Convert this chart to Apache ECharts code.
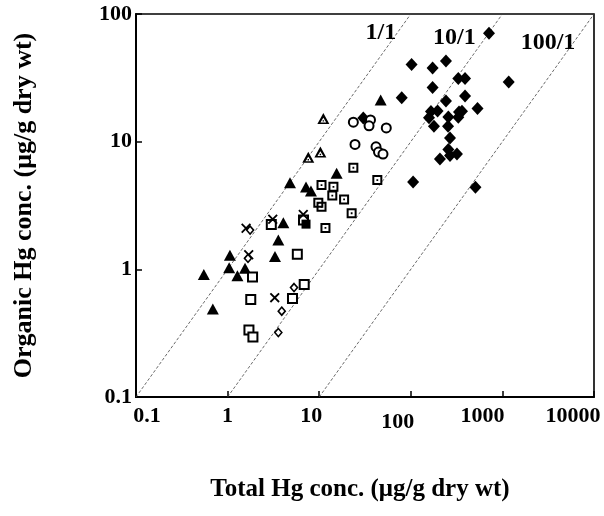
<!DOCTYPE html>
<html>
<head>
<meta charset="utf-8">
<script src="https://cdn.jsdelivr.net/npm/echarts@6/dist/echarts.min.js"></script>
<style>
html,body{margin:0;padding:0;background:#fff;}
#chart{width:604px;height:516px;}
</style>
</head>
<body>
<div id="chart"></div>
<script>
// ---- data (Total Hg, Organic Hg) in ug/g dry wt ----
const xTickLabels = ['0.1', '1', '10', '100', '1000', '10000'];
const yTickLabels = ['0.1', '1', '10', '100'];
const ratios = [1, 10, 100];
const ratioLabels = ['1/1', '10/1', '100/1'];

const filledTriangles = [
  [46.9, 21.2], [15.5, 5.65], [4.80, 4.77], [7.18, 4.41], [8.13, 4.10],
  [4.06, 2.32], [3.58, 1.70], [3.29, 1.26], [1.06, 1.29], [1.04, 1.03],
  [1.55, 1.02], [1.28, 0.89], [0.55, 0.91], [0.69, 0.49]
];
const openTriangles = [[11.1, 15.2], [10.3, 8.29], [7.60, 7.54]];
const openCircles = [
  [23.6, 14.2], [36.3, 14.8], [35.0, 13.3], [54.0, 12.8],
  [24.6, 9.52], [41.7, 9.12], [44.4, 8.29], [49.7, 8.00]
];
const filledDiamonds = [
  [714, 70.8], [102, 40.3], [173, 37.7], [242, 42.8], [330, 31.3], [391, 31.3],
  [1172, 29.3], [173, 26.6], [79.6, 22.1], [242, 20.8], [391, 22.8], [535, 18.2],
  [166, 17.2], [196, 17.4], [158, 15.4], [336, 17.1], [362, 17.3], [330, 15.5],
  [257, 15.6], [179, 13.2], [255, 13.2], [268, 10.7], [257, 8.67], [268, 7.78],
  [319, 8.00], [208, 7.31], [106, 4.83], [508, 4.39], [30.3, 15.3]
];
const openSquares = [
  [5.77, 1.31], [1.87, 0.87], [6.86, 0.76], [1.79, 0.58], [5.11, 0.59],
  [1.71, 0.335], [1.89, 0.295], [3.00, 2.24], [6.74, 2.43]
];
const dottedSquares = [
  [23.6, 6.25], [43.1, 5.00], [10.6, 4.57], [14.3, 4.43], [13.9, 3.78],
  [18.7, 3.53], [22.6, 2.75], [9.78, 3.32], [10.6, 3.09], [11.7, 2.11]
];
const filledSquares = [[7.18, 2.26]];
const crosses = [[1.59, 2.10], [3.11, 2.47], [1.70, 1.30], [3.27, 0.60], [6.70, 2.69]];
const smallDiamonds = [[1.76, 2.03], [1.67, 1.22], [5.31, 0.72], [3.90, 0.47], [3.58, 0.32]];

// ---- styling ----
const FONT = 'Liberation Serif';
const labelOffsets = [[-30, 19], [-48, 24], [-46, 29]];
const xLabelPads = [[0, 0, 0, 22], [0, 0, 0, 0], [0, 16, 0, 0], [6, 26, 0, 0], [0, 40, 0, 0], [0, 42, 0, 0]];

const SYM_DOTSQ = 'path://M0,0 L10,0 L10,10 L0,10 Z M2,2 L2,8 L8,8 L8,2 Z M4.1,4.1 L5.9,4.1 L5.9,5.9 L4.1,5.9 Z';
const SYM_DOTTRI = 'path://M5,0 L10,10 L0,10 Z M5,4.3 L2.6,8.6 L7.4,8.6 Z M4.4,6.6 L5.6,6.6 L5.6,7.8 L4.4,7.8 Z';
const SYM_CROSS = 'path://M0,1.3 L1.3,0 L5,3.7 L8.7,0 L10,1.3 L6.3,5 L10,8.7 L8.7,10 L5,6.3 L1.3,10 L0,8.7 L3.7,5 Z';

const chart = echarts.init(document.getElementById('chart'));

const xRich = {};
xLabelPads.forEach((p, i) => {
  xRich['l' + i] = { fontFamily: FONT, fontWeight: 'bold', fontSize: 22, color: '#000', padding: p };
});

const lineSeries = ratios.map((r, i) => ({
  type: 'line',
  silent: true,
  z: 1,
  symbol: 'circle',
  symbolSize: 0.01,
  lineStyle: { color: '#444', width: 0.8, type: [3, 2] },
  itemStyle: { color: 'rgba(0,0,0,0)' },
  data: [
    [0.1 * r, 0.1],
    {
      value: [100 * r, 100],
      label: {
        show: true, position: 'inside', offset: labelOffsets[i],
        formatter: ratioLabels[i],
        fontFamily: FONT, fontWeight: 'bold', fontSize: 24, color: '#000'
      }
    }
  ]
}));

function scatter(data, symbol, size, fill, border, bw) {
  return {
    type: 'scatter', z: 3, data: data, symbol: symbol, symbolSize: size,
    itemStyle: { color: fill, borderColor: border, borderWidth: bw || 0, opacity: 1 }
  };
}

chart.setOption({
  animation: false,
  backgroundColor: '#fff',
  grid: { left: 136, right: 10, top: 14, bottom: 119, show: true, borderColor: '#000', borderWidth: 1.6, backgroundColor: 'transparent' },
  xAxis: {
    type: 'log', logBase: 10, min: 0.1, max: 10000,
    name: 'Total Hg conc. (\u03bcg/g dry wt)',
    nameLocation: 'middle', nameGap: 80,
    nameTextStyle: { fontFamily: FONT, fontWeight: 'bold', fontSize: 25, color: '#000', padding: [0, 10, 0, 0] },
    axisLine: { show: true, lineStyle: { color: '#000', width: 2 } },
    axisTick: { show: true, inside: true, length: 6, lineStyle: { color: '#000', width: 1.5 } },
    minorTick: { show: false },
    splitLine: { show: false },
    axisLabel: {
      margin: 8,
      formatter: v => {
        const i = Math.round(Math.log10(v)) + 1;
        return '{l' + i + '|' + xTickLabels[i] + '}';
      },
      rich: xRich
    }
  },
  yAxis: {
    type: 'log', logBase: 10, min: 0.1, max: 100,
    name: 'Organic Hg conc. (\u03bcg/g dry wt)',
    nameLocation: 'middle', nameGap: 99, nameRotate: 90,
    nameTextStyle: { fontFamily: FONT, fontWeight: 'bold', fontSize: 26, color: '#000' },
    axisLine: { show: true, lineStyle: { color: '#000', width: 2 } },
    axisTick: { show: true, inside: true, length: 6, lineStyle: { color: '#000', width: 1.5 } },
    splitLine: { show: false },
    axisLabel: {
      margin: 4,
      fontFamily: FONT, fontWeight: 'bold', fontSize: 22, color: '#000',
      formatter: v => yTickLabels[Math.round(Math.log10(v)) + 1]
    }
  },
  series: lineSeries.concat([
    scatter(filledDiamonds, 'diamond', [12, 13], '#000', '#000', 0),
    scatter(filledTriangles, 'triangle', [12, 11], '#000', '#000', 0),
    scatter(openTriangles, SYM_DOTTRI, [12, 11], '#000', '#000', 0),
    scatter(openCircles, 'circle', 9, '#fff', '#000', 2),
    scatter(openSquares, 'rect', 9, '#fff', '#000', 2),
    scatter(dottedSquares, SYM_DOTSQ, 10, '#000', '#000', 0),
    scatter(filledSquares, 'rect', 9, '#000', '#000', 0),
    scatter(crosses, SYM_CROSS, 10, '#000', '#000', 0),
    scatter(smallDiamonds, 'diamond', [7, 8], '#fff', '#000', 1.6)
  ])
});
</script>
</body>
</html>
